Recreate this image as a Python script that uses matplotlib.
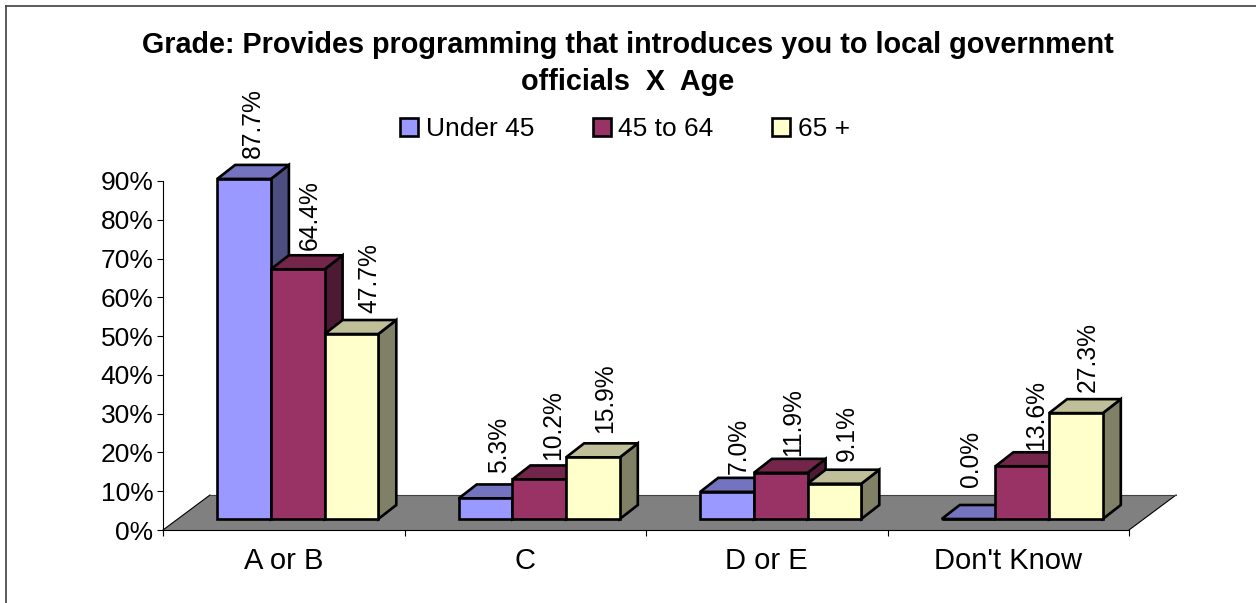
# plot.py
import matplotlib
matplotlib.use('Agg')
import matplotlib.pyplot as plt
from matplotlib.lines import Line2D
from matplotlib.patches import Patch, Polygon, Rectangle

# === Data ===
categories = ['A or B', 'C', 'D or E', "Don't Know"]
series_names = ['Under 45', '45 to 64', '65 +']
under_45 = [87.7, 5.3, 7.0, 0.0]
age_45_64 = [64.4, 10.2, 11.9, 13.6]
age_65_up = [47.7, 15.9, 9.1, 27.3]
y_ticks = [0, 10, 20, 30, 40, 50, 60, 70, 80, 90]

title_line1 = 'Grade: Provides programming that introduces you to local government'
title_line2 = 'officials  X  Age'

# front, top and side shades per series
front_colors = ['#9999FF', '#993366', '#FFFFCC']
top_colors = ['#7373BF', '#732649', '#BFBF99']
side_colors = ['#4D4D80', '#4D1A33', '#808066']

# hand placed data labels: pixels from the front top centre of each bar (per series, per category)
label_dx = [[9, 13, 12, 2], [12.5, 13.5, 12.5, 13.5], [18, 12.5, 12, 12]]
label_dy = [[21, 25, 18, 32], [19, 19, 17, 16], [21, 24, 23, 21]]

plt.rcParams['font.family'] = ['Liberation Sans', 'DejaVu Sans']

W, H = 1256, 603
fig = plt.figure(figsize=(W / 100, H / 100), dpi=100)

# axes box in pixels: x 163..1129, y 530 (0%) .. 181 (90%)
ax = fig.add_axes([163 / W, 1 - 530 / H, (1129 - 163) / W, (530 - 181) / H])
ax.set_xlim(0, 4)
ax.set_ylim(0, 90)

px_x = 4 / (1129 - 163)   # data units per pixel
px_y = 90 / (530 - 181)
px_pt = 0.72              # points per pixel at dpi 100

# === Floor ===
floor_dx, floor_dy = 47 * px_x, 35 * px_y
ax.add_patch(Polygon([(0, 0), (4, 0), (4 + floor_dx, floor_dy), (floor_dx, floor_dy)],
                     facecolor='#808080', edgecolor='none', clip_on=False, zorder=1))
ax.plot([0, floor_dx], [0, floor_dy], color='black', lw=0.8, clip_on=False, zorder=1.5)
ax.plot([4, 4 + floor_dx], [0, floor_dy], color='black', lw=0.8, clip_on=False, zorder=1.5)
ax.plot([floor_dx, 4 + floor_dx], [floor_dy, floor_dy], color='#404040', lw=0.8, clip_on=False, zorder=1.5)

# === Bars ===
bar_w = 53.7 * px_x
shift_x, shift_y = 14 * px_x, 11 * px_y   # bars stand part way into the floor
depth_x, depth_y = 18 * px_x, 14 * px_y
edge = dict(edgecolor='black', linewidth=1.9, joinstyle='miter', clip_on=False, zorder=3)

values = [under_45, age_45_64, age_65_up]
for c in range(len(categories)):
    left = c + 0.5 + shift_x - 1.5 * bar_w
    for s, vals in enumerate(values):
        v = vals[c]
        x0 = left + s * bar_w
        x1 = x0 + bar_w
        y0 = shift_y
        y1 = v + shift_y
        ax.add_patch(Polygon([(x1, y0), (x1 + depth_x, y0 + depth_y), (x1 + depth_x, y1 + depth_y), (x1, y1)],
                             facecolor=side_colors[s], **edge))
        ax.add_patch(Polygon([(x0, y1), (x1, y1), (x1 + depth_x, y1 + depth_y), (x0 + depth_x, y1 + depth_y)],
                             facecolor=top_colors[s], **edge))
        ax.add_patch(Rectangle((x0, y0), bar_w, v, facecolor=front_colors[s], **edge))
        ax.annotate(f'{v:.1f}%', (x0 + bar_w / 2, y1),
                    xytext=(label_dx[s][c] * px_pt, label_dy[s][c] * px_pt), textcoords='offset points',
                    rotation=90, ha='center', va='bottom', fontsize=17.7, annotation_clip=False, zorder=5)

# === Axes ===
for side in ['top', 'right']:
    ax.spines[side].set_visible(False)
for side in ['left', 'bottom']:
    ax.spines[side].set_linewidth(0.8)
    ax.spines[side].set_zorder(2)

ax.set_yticks(y_ticks)
ax.set_yticklabels([f'{t}%' for t in y_ticks], fontsize=19)
ax.tick_params(axis='y', length=4.5, width=0.8, pad=2.5)
ax.set_xticks(range(5))
ax.set_xticklabels([])
ax.tick_params(axis='x', length=4.5, width=0.8)
ax.set_xticks([i + 0.5 for i in range(4)], minor=True)
ax.set_xticklabels(categories, minor=True, fontsize=21)
ax.tick_params(axis='x', which='minor', length=0, pad=12)

# === Title, legend, frame ===
fig.text(628 / W, 1 - 52.7 / H, title_line1, ha='center', va='baseline', fontsize=20.7, fontweight='bold')
fig.text(628 / W, 1 - 90 / H, title_line2, ha='center', va='baseline', fontsize=20.7, fontweight='bold')

handles = [Patch(facecolor=col, edgecolor='black', linewidth=1.9) for col in front_colors]
fig.legend(handles, series_names, ncol=3, loc='center', bbox_to_anchor=(625 / W, 1 - 129 / H),
           frameon=False, fontsize=19, handlelength=0.68, handleheight=0.68,
           handletextpad=0.3, columnspacing=2.2, borderpad=0, labelspacing=0)

# chart frame only shows on the top and left
fig.add_artist(Line2D([5.5 / W, 1], [1 - 5.5 / H, 1 - 5.5 / H], color='#404040', lw=1.2))
fig.add_artist(Line2D([5.5 / W, 5.5 / W], [0, 1 - 5.5 / H], color='#404040', lw=1.2))

fig.savefig('out.png', dpi=100, facecolor='white')
